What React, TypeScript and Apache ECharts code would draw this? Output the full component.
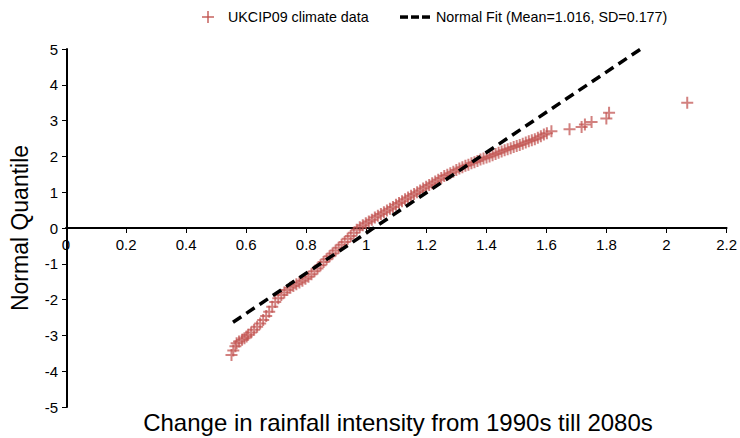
import React, { useEffect, useRef } from "react";
import * as echarts from "echarts";

// Sorted change factors (x) and their matching standard-normal quantiles (y)
const rainfallChange = [
  0.545, 0.551, 0.558, 0.562, 0.57, 0.58, 0.588, 0.595,
  0.6, 0.61, 0.62, 0.63, 0.64, 0.65, 0.66, 0.67, 0.68, 0.69,
  0.7, 0.71, 0.72, 0.73, 0.74, 0.75, 0.76, 0.77, 0.78, 0.79,
  0.8, 0.81, 0.82, 0.83, 0.84, 0.85, 0.86, 0.87, 0.88, 0.89,
  0.9, 0.91, 0.92, 0.93, 0.94, 0.95, 0.96, 0.97, 0.98, 0.99,
  1.0, 1.01, 1.02, 1.03, 1.04, 1.05, 1.06, 1.07, 1.08, 1.09,
  1.1, 1.11, 1.12, 1.13, 1.14, 1.15, 1.16, 1.17, 1.18, 1.19,
  1.2, 1.21, 1.22, 1.23, 1.24, 1.25, 1.26, 1.27, 1.28, 1.29,
  1.3, 1.31, 1.32, 1.33, 1.34, 1.35, 1.36, 1.37, 1.38, 1.39,
  1.4, 1.41, 1.42, 1.43, 1.44, 1.45, 1.46, 1.47, 1.48, 1.49,
  1.5, 1.51, 1.52, 1.53, 1.54, 1.55, 1.56, 1.57, 1.58, 1.59,
  1.605, 1.665, 1.705, 1.716, 1.738, 1.787, 1.796, 2.055,
];

const normalQuantile = [
  -3.55, -3.42, -3.3, -3.22, -3.17, -3.12, -3.08, -3.03,
  -2.98, -2.92, -2.84, -2.76, -2.67, -2.57, -2.46, -2.34, -2.2, -2.07,
  -1.96, -1.87, -1.8, -1.73, -1.67, -1.62, -1.57, -1.52, -1.47, -1.42,
  -1.36, -1.29, -1.21, -1.13, -1.04, -0.95, -0.87, -0.79, -0.71, -0.63,
  -0.55, -0.47, -0.39, -0.3, -0.22, -0.13, -0.05, 0.02, 0.08, 0.13,
  0.18, 0.23, 0.29, 0.34, 0.39, 0.44, 0.49, 0.54, 0.59, 0.65,
  0.7, 0.75, 0.8, 0.85, 0.9, 0.95, 1.0, 1.05, 1.1, 1.15,
  1.2, 1.25, 1.3, 1.35, 1.4, 1.45, 1.49, 1.53, 1.57, 1.62,
  1.66, 1.7, 1.74, 1.77, 1.81, 1.84, 1.87, 1.91, 1.94, 1.97,
  2.0, 2.03, 2.07, 2.1, 2.14, 2.17, 2.2, 2.23, 2.26, 2.29,
  2.32, 2.35, 2.39, 2.42, 2.45, 2.48, 2.52, 2.56, 2.61, 2.65,
  2.7, 2.76, 2.82, 2.89, 2.96, 3.06, 3.22, 3.5,
];

// Fitted normal distribution parameters
const fitMean = 1.016;
const fitSD = 0.177;
const fitRange = [0.55, 1.9];

const xTicks = { min: 0, max: 2.2, interval: 0.2 };
const yTicks = { min: -5, max: 5, interval: 1 };

const seriesNames = ["UKCIP09 climate data", `Normal Fit (Mean=${fitMean}, SD=${fitSD})`];
const xTitle = "Change in rainfall intensity from 1990s till 2080s";
const yTitle = "Normal Quantile";

const FONT = "'Liberation Sans', Arial, sans-serif";
const RED = "rgba(192,80,77,0.9)";
const PLUS = "path://M5,0h2v12h-2z M0,5h12v2h-12z";

const GRID_LEFT = 66;
const GRID_RIGHT = 9;
const GRID_TOP = 49;
const GRID_BOTTOM = 31;
const PLOT_HEIGHT = 438 - GRID_TOP - GRID_BOTTOM;

export default function App() {
  const ref = useRef<HTMLDivElement>(null);

  useEffect(() => {
    if (!ref.current) return;
    document.body.style.margin = "0";
    const chart = echarts.init(ref.current, undefined, { renderer: "svg" });

    const points = rainfallChange.map((x, i) => [x, normalQuantile[i]]);
    const fitLine = fitRange.map((x) => [x, (x - fitMean) / fitSD]);

    // share of the plot height above y = 0, so the crossing x axis sits on zero
    const upperShare = yTicks.max / (yTicks.max - yTicks.min);

    chart.setOption({
      animation: false,
      backgroundColor: "#ffffff",
      grid: [
        { left: GRID_LEFT, right: GRID_RIGHT, top: GRID_TOP, bottom: GRID_BOTTOM },
        { left: GRID_LEFT, right: GRID_RIGHT, top: GRID_TOP, height: PLOT_HEIGHT * upperShare },
      ],
      xAxis: [
        {
          type: "value",
          gridIndex: 0,
          min: xTicks.min,
          max: xTicks.max,
          interval: xTicks.interval,
          show: false,
        },
        {
          type: "value",
          gridIndex: 1,
          position: "bottom",
          min: xTicks.min,
          max: xTicks.max,
          interval: xTicks.interval,
          axisLine: { onZero: false, lineStyle: { color: "#000", width: 2 } },
          axisTick: { show: true, length: 5, lineStyle: { color: "#000", width: 1 } },
          axisLabel: {
            color: "#000",
            fontFamily: FONT,
            fontSize: 15,
            margin: 9,
            formatter: (v: number) => String(Math.round(v * 10) / 10),
          },
          splitLine: { show: false },
        },
      ],
      yAxis: [
        {
          type: "value",
          gridIndex: 0,
          min: yTicks.min,
          max: yTicks.max,
          interval: yTicks.interval,
          name: yTitle,
          nameLocation: "middle",
          nameGap: 36,
          nameTextStyle: { color: "#000", fontFamily: FONT, fontSize: 23 },
          axisLine: { onZero: false, lineStyle: { color: "#000", width: 2 } },
          axisTick: { show: true, length: 5, lineStyle: { color: "#000", width: 1 } },
          axisLabel: { color: "#000", fontFamily: FONT, fontSize: 15, margin: 9 },
          splitLine: { show: false },
        },
        {
          type: "value",
          gridIndex: 1,
          min: 0,
          max: yTicks.max,
          show: false,
        },
      ],
      series: [
        {
          name: seriesNames[0],
          type: "scatter",
          xAxisIndex: 0,
          yAxisIndex: 0,
          data: points,
          symbol: PLUS,
          symbolSize: 12,
          itemStyle: { color: RED },
          z: 2,
        },
        {
          name: seriesNames[1],
          type: "line",
          xAxisIndex: 0,
          yAxisIndex: 0,
          data: fitLine,
          showSymbol: false,
          symbol: "none",
          lineStyle: { color: "#000", width: 3.5, type: [10, 6] },
          z: 3,
        },
      ],
      graphic: [
        // legend: data marker
        { type: "line", shape: { x1: 202, y1: 17, x2: 214, y2: 17 }, style: { stroke: RED, lineWidth: 1.5 } },
        { type: "line", shape: { x1: 208, y1: 11, x2: 208, y2: 23 }, style: { stroke: RED, lineWidth: 1.5 } },
        {
          type: "text",
          x: 228,
          y: 17,
          style: { text: seriesNames[0], fill: "#000", font: `14.3px ${FONT}`, textVerticalAlign: "middle" },
        },
        // legend: fitted line
        { type: "rect", shape: { x: 400, y: 15.3, width: 8, height: 3.5 }, style: { fill: "#000" } },
        { type: "rect", shape: { x: 411, y: 15.3, width: 8, height: 3.5 }, style: { fill: "#000" } },
        { type: "rect", shape: { x: 422, y: 15.3, width: 8, height: 3.5 }, style: { fill: "#000" } },
        {
          type: "text",
          x: 436,
          y: 17,
          style: { text: seriesNames[1], fill: "#000", font: `14.3px ${FONT}`, textVerticalAlign: "middle" },
        },
        // x-axis title
        {
          type: "text",
          x: 398,
          y: 422,
          style: {
            text: xTitle,
            fill: "#000",
            font: `24px ${FONT}`,
            textAlign: "center",
            textVerticalAlign: "middle",
          },
        },
      ],
    });

    return () => chart.dispose();
  }, []);

  return <div ref={ref} style={{ width: 740, height: 438 }} />;
}
